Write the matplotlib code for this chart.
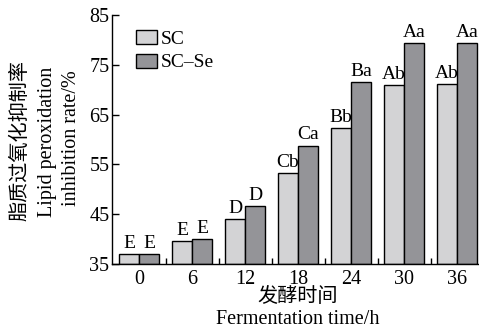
import numpy as np
import matplotlib.pyplot as plt
from matplotlib.ticker import FixedLocator

plt.rcParams['font.family'] = ['Liberation Serif', 'Noto Sans CJK SC']

hours = ['0', '6', '12', '18', '24', '30', '36']
sc = [37.1, 39.6, 44.0, 53.3, 62.4, 71.0, 71.2]
sc_se = [37.1, 40.0, 46.6, 58.8, 71.5, 79.3, 79.3]
sc_marks = ['E', 'E', 'D', 'Cb', 'Bb', 'Ab', 'Ab']
sc_se_marks = ['E', 'E', 'D', 'Ca', 'Ba', 'Aa', 'Aa']

fig = plt.figure(figsize=(4.79, 3.28), dpi=100)
ax = fig.add_axes([0.234, 0.195, 0.766, 0.759])

x = np.arange(len(hours))
w = 0.38
ax.bar(x - w / 2, np.array(sc) - 35, w, bottom=35, color='#d3d3d5',
       edgecolor='black', linewidth=1.0, label='SC')
ax.bar(x + w / 2, np.array(sc_se) - 35, w, bottom=35, color='#949498',
       edgecolor='black', linewidth=1.0, label='SC–Se')

for xi, v, t in zip(x - w / 2, sc, sc_marks):
    ax.annotate(t, (xi, v), xytext=(0, 1.5), textcoords='offset points',
                ha='center', va='bottom', fontsize=14)
for xi, v, t in zip(x + w / 2, sc_se, sc_se_marks):
    ax.annotate(t, (xi, v), xytext=(0, 1.5), textcoords='offset points',
                ha='center', va='bottom', fontsize=14)

ax.set_ylim(35, 85)
ax.set_xlim(-0.51, 6.41)
ax.set_yticks(range(35, 86, 10))
ax.set_xticks(x)
ax.set_xticklabels(hours)
ax.xaxis.set_minor_locator(FixedLocator(x[:-1] + 0.5))
ax.tick_params(axis='x', which='major', length=0, labelsize=14.5, pad=4)
ax.tick_params(axis='x', which='minor', direction='in', length=4, width=1)
ax.tick_params(axis='y', direction='in', length=5, width=1, labelsize=14.5, pad=2)
for s in ['top', 'right']:
    ax.spines[s].set_visible(False)
for s in ['left', 'bottom']:
    ax.spines[s].set_linewidth(1.0)

# axis titles, Chinese over English
fig.text(21 / 479, 0.573, '脂质过氧化抑制率', rotation=90, ha='center',
         va='center', fontsize=14.5)
fig.text(48 / 479, 0.567, 'Lipid peroxidation', rotation=90, ha='center',
         va='center', fontsize=14.5)
fig.text(71 / 479, 0.579, 'inhibition rate/%', rotation=90, ha='center',
         va='center', fontsize=14.5)
fig.text(0.622, 1 - 297 / 328, '发酵时间', ha='center', va='center',
         fontsize=14.5)
fig.text(0.622, 1 - 319 / 328, 'Fermentation time/h', ha='center',
         va='center', fontsize=14.5)

ax.legend(loc='upper left', bbox_to_anchor=(0.044, 0.972), frameon=False,
          fontsize=14, handlelength=1.1, handleheight=0.75, handletextpad=0.15,
          labelspacing=0.3, borderaxespad=0)

fig.savefig('out.png', dpi=100)
